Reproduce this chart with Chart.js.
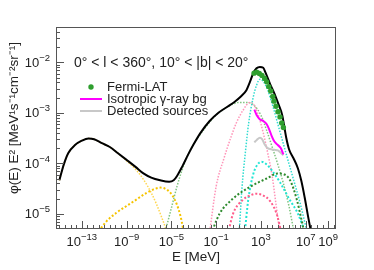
<!DOCTYPE html>
<html>
<head>
<meta charset="utf-8">
<script src="https://cdn.jsdelivr.net/npm/chart.js@4.4.1/dist/chart.umd.min.js"></script>
<style>
  body { margin: 0; background: #fff; }
</style>
</head>
<body>
<canvas id="sedChart" width="374" height="270"></canvas>
<script>
// total model (black)
const totalE = [1e-15, 2.5e-15, 6.3e-15, 2.5e-14, 1e-13, 4e-13, 1.26e-12, 6.3e-12, 3.2e-11, 1.6e-10,
  1e-9, 6.3e-9, 3.2e-8, 1.6e-7, 1e-6, 6.3e-6, 1.6e-5, 3.2e-5, 1e-4, 3.2e-4,
  1e-3, 4e-3, 2.5e-2, 0.16, 1, 4, 16, 50, 100, 200,
  400, 800, 1600, 2500, 6300, 1.6e4, 4e4, 8e4, 1.26e5, 1.8e5,
  3.2e5, 8e5, 2e6, 4e6, 8e6, 1.6e7, 3.2e7];
const totalF = [4.6e-5, 9.5e-5, 1.6e-4, 2.3e-4, 2.8e-4, 3.1e-4, 3.0e-4, 2.5e-4, 2.1e-4, 1.6e-4,
  1.17e-4, 8.5e-5, 6.3e-5, 5.2e-5, 4.6e-5, 4.3e-5, 4.6e-5, 5.6e-5, 8.9e-5, 1.5e-4,
  2.4e-4, 4.0e-4, 6.8e-4, 1.0e-3, 1.32e-3, 1.62e-3, 2.1e-3, 2.8e-3, 4.0e-3, 6.0e-3,
  7.6e-3, 8.1e-3, 7.8e-3, 6.3e-3, 3.8e-3, 2.4e-3, 1.4e-3, 8.9e-4, 5.0e-4, 3.2e-4,
  1.9e-4, 1.26e-4, 7.9e-5, 4.5e-5, 2.1e-5, 8.9e-6, 4.0e-6];

// synchrotron (thin yellow)
const syncE = [1e-15, 2.5e-15, 6.3e-15, 2.5e-14, 1e-13, 4e-13, 1.26e-12, 6.3e-12, 3.2e-11, 1.6e-10,
  1e-9, 6.3e-9, 3.2e-8, 1.6e-7, 5e-7, 1.26e-6, 3.2e-6, 5e-6];
const syncF = [4.6e-5, 9.5e-5, 1.6e-4, 2.3e-4, 2.8e-4, 3.1e-4, 3.0e-4, 2.5e-4, 2.1e-4, 1.6e-4,
  1.12e-4, 7.6e-5, 4.8e-5, 2.6e-5, 1.5e-5, 8.9e-6, 5.0e-6, 3.5e-6];

// second low-energy bump (thick gold)
const bump2E = [3.2e-12, 1.6e-11, 1.26e-10, 4e-9, 6.3e-8, 3.2e-7, 1e-6, 4e-6, 1.26e-5, 3.2e-5, 6.3e-5, 1.12e-4, 1.4e-4];
const bump2F = [4.5e-6, 7.1e-6, 1.05e-5, 1.74e-5, 2.6e-5, 3.1e-5, 3.3e-5, 3.0e-5, 2.3e-5, 1.5e-5, 9.3e-6, 5.0e-6, 3.5e-6];

// inverse Compton (thin light green)
const icE = [2.5e-6, 1e-5, 3.2e-5, 1e-4, 3.2e-4, 1e-3, 1e-2, 0.1, 1, 10,
  63, 250, 1000, 3200, 1e4, 3.2e4, 1e5, 3.2e5, 8e5, 1.26e6];
const icF = [4e-6, 1.3e-5, 3.5e-5, 7.9e-5, 1.5e-4, 2.4e-4, 5.0e-4, 9.1e-4, 1.3e-3, 1.6e-3,
  1.6e-3, 1.4e-3, 8.9e-4, 4.5e-4, 2.1e-4, 9.5e-5, 4.0e-5, 1.4e-5, 5.0e-6, 3.2e-6];

// thin pink
const pinkE = [0.025, 0.1, 0.5, 2, 6.3, 25, 100, 200, 500, 1600, 4000, 1e4, 2e4, 3.5e4, 5e4];
const pinkF = [4.0e-6, 3.5e-5, 1.26e-4, 3.2e-4, 6.3e-4, 1.12e-3, 1.6e-3, 1.5e-3, 1.0e-3, 4.0e-4, 1.6e-4, 5.6e-5, 1.8e-5, 7.1e-6, 4.0e-6];

// thin cyan
const cyanE = [11.2, 20, 40, 80, 200, 400, 800, 1600, 4000, 1.26e4, 5e4, 2e5, 8e5, 3.2e6, 1.26e7];
const cyanF = [4.0e-6, 3.2e-5, 1.6e-4, 6.3e-4, 2.0e-3, 3.5e-3, 4.6e-3, 4.2e-3, 2.8e-3, 1.26e-3, 4.2e-4, 1.4e-4, 4.8e-5, 1.6e-5, 4.5e-6];

// thick cyan
const cyan2E = [35, 71, 200, 500, 1120, 3200, 1e4, 5e4, 3.2e5, 2e6, 8e6];
const cyan2F = [4.0e-6, 1.8e-5, 6.0e-5, 9.5e-5, 1.07e-4, 9.5e-5, 7.1e-5, 4.2e-5, 2.0e-5, 1.0e-5, 4.5e-6];

// thick dark green
const green2E = [0.035, 0.2, 3.2, 100, 3200, 3.2e4, 1.26e5, 4e5, 1.6e6, 4e6, 8e6];
const green2F = [4.0e-6, 1.0e-5, 2.0e-5, 3.4e-5, 5.0e-5, 6.3e-5, 6.0e-5, 4.6e-5, 1.9e-5, 7.9e-6, 4.0e-6];

// thick hot pink
const pink2E = [1.12, 3.2, 25, 100, 400, 1600, 6300, 2.5e4, 6.3e4];
const pink2F = [4.0e-6, 1.0e-5, 1.9e-5, 2.3e-5, 2.5e-5, 2.3e-5, 1.8e-5, 1.0e-5, 4.5e-6];

// Fermi-LAT data points
const fermiE = [240, 420, 710, 1230, 2140, 3240, 4900, 7400, 1.12e4, 1.45e4, 2.2e4, 3.3e4, 5.0e4, 7.1e4, 1.0e5];
const fermiF = [6.1e-3, 6.4e-3, 6.0e-3, 5.5e-3, 4.8e-3, 4.1e-3, 3.3e-3, 2.7e-3, 2.1e-3, 1.7e-3, 1.35e-3, 1.05e-3, 8.3e-4, 6.3e-4, 5.1e-4];

// isotropic gamma-ray background
const isoE = [257, 420, 810, 1580, 3160, 5600, 8900, 1.58e4, 3.2e4, 5.8e4, 1e5];
const isoF = [1.15e-3, 8.9e-4, 7.4e-4, 6.9e-4, 6.0e-4, 4.6e-4, 3.5e-4, 2.7e-4, 2.3e-4, 2.0e-4, 1.5e-4];

// detected sources
const srcE = [257, 420, 810, 1260, 2300, 4000, 7900, 1.58e4, 3.2e4, 7.1e4, 1e5];
const srcF = [2.6e-4, 2.9e-4, 3.2e-4, 3.0e-4, 2.3e-4, 2.0e-4, 1.9e-4, 1.85e-4, 1.8e-4, 1.55e-4, 1.45e-4];

const xTickValues = [1e-13, 1e-9, 1e-5, 1e-1, 1e3, 1e7, 1e9];
const xTickExps = ['−13', '−9', '−5', '−1', '3', '7', '9'];
const yTickValues = [1e-5, 1e-4, 1e-3, 1e-2];
const yTickExps = ['−5', '−4', '−3', '−2'];

const FONT = "'Liberation Sans', Arial, sans-serif";

function pts(xs, ys) {
  return xs.map(function(x, i) { return {x: x, y: ys[i]}; });
}

function curve(xs, ys, color, width, dash) {
  return {
    data: pts(xs, ys),
    borderColor: color,
    borderWidth: width,
    borderDash: dash || [],
    pointRadius: 0,
    cubicInterpolationMode: 'monotone',
    fill: false
  };
}

// "10" with a raised exponent, ROOT style
function powerLabel(ctx, exp, x, y, align) {
  ctx.font = '13px ' + FONT;
  const w1 = ctx.measureText('10').width;
  ctx.font = '9.5px ' + FONT;
  const w2 = ctx.measureText(exp).width;
  const start = align === 'right' ? x - w1 - w2 : x - (w1 + w2) / 2;
  ctx.textAlign = 'left';
  ctx.textBaseline = 'alphabetic';
  ctx.font = '13px ' + FONT;
  ctx.fillText('10', start, y);
  ctx.font = '9.5px ' + FONT;
  ctx.fillText(exp, start + w1, y - 6);
}

// frame, inward ticks, tick labels, title and legend (ROOT style)
const rootStyle = {
  id: 'rootStyle',
  afterDraw: function(chart) {
    const ctx = chart.ctx;
    const a = chart.chartArea;
    const xs = chart.scales.x;
    const ys = chart.scales.y;
    ctx.save();
    ctx.strokeStyle = '#555';
    ctx.lineWidth = 1;
    ctx.strokeRect(a.left + 0.5, a.top + 0.5, a.right - a.left - 1, a.bottom - a.top - 1);

    ctx.beginPath();
    for (let n = -6; n <= -2; n++) {
      for (let m = 1; m <= 9; m++) {
        const v = m * Math.pow(10, n);
        if (v < ys.min || v > ys.max) continue;
        const y = Math.round(ys.getPixelForValue(v)) + 0.5;
        ctx.moveTo(a.left, y);
        ctx.lineTo(a.left + (m === 1 ? 8 : 4), y);
      }
    }
    for (let n = -32; n <= 20; n++) {
      const v = Math.pow(10, n / 2);
      if (v < xs.min || v > xs.max) continue;
      const x = Math.round(xs.getPixelForValue(v)) + 0.5;
      ctx.moveTo(x, a.bottom);
      ctx.lineTo(x, a.bottom - (xTickValues.indexOf(v) >= 0 ? 8 : 4));
    }
    ctx.stroke();

    ctx.fillStyle = '#222';
    xTickValues.forEach(function(v, i) {
      powerLabel(ctx, xTickExps[i], xs.getPixelForValue(v), 245.5, 'center');
    });
    yTickValues.forEach(function(v, i) {
      powerLabel(ctx, yTickExps[i], 50, ys.getPixelForValue(v) + 4.5, 'right');
    });

    ctx.font = '14px ' + FONT;
    ctx.textAlign = 'left';
    ctx.textBaseline = 'alphabetic';
    ctx.fillText('0° < l < 360°, 10° < |b| < 20°', 74, 67);

    // legend
    ctx.font = '13px ' + FONT;
    ctx.fillText('Fermi-LAT', 107, 91);
    ctx.fillText('Isotropic γ-ray bg', 107, 103);
    ctx.fillText('Detected sources', 107, 115);
    ctx.fillStyle = '#2e9e2e';
    ctx.beginPath();
    ctx.arc(91, 87, 2.7, 0, Math.PI * 2);
    ctx.fill();
    ctx.lineWidth = 2;
    ctx.strokeStyle = '#ff00ff';
    ctx.beginPath();
    ctx.moveTo(80, 99);
    ctx.lineTo(102, 99);
    ctx.stroke();
    ctx.strokeStyle = '#c8c8c8';
    ctx.beginPath();
    ctx.moveTo(80, 111);
    ctx.lineTo(102, 111);
    ctx.stroke();

    // y title
    ctx.fillStyle = '#222';
    ctx.font = '13.5px ' + FONT;
    ctx.translate(18, 118);
    ctx.rotate(-Math.PI / 2);
    ctx.textAlign = 'center';
    ctx.fillText('φ(E) E² [MeV¹s⁻¹cm⁻²sr⁻¹]', 0, 0);
    ctx.restore();
  }
};

const ctx = document.getElementById('sedChart').getContext('2d');
const chart = new Chart(ctx, {
  type: 'line',
  data: {
    datasets: [
      {
        data: pts(fermiE, fermiF),
        showLine: false,
        pointRadius: 2.7,
        pointBackgroundColor: '#2e9e2e',
        pointBorderWidth: 0
      },
      curve(isoE, isoF, '#ff00ff', 2),
      curve(srcE, srcF, '#c8c8c8', 2),
      curve(totalE, totalF, '#000000', 2),
      curve(pink2E, pink2F, '#ff5c8a', 2, [2, 2]),
      curve(green2E, green2F, '#2e8b2e', 2, [2, 2]),
      curve(cyan2E, cyan2F, '#22e5d5', 2, [2, 2]),
      curve(cyanE, cyanF, '#30dcd0', 1.5, [1.5, 1.5]),
      curve(pinkE, pinkF, '#ff94b8', 1.5, [1.5, 1.5]),
      curve(icE, icF, '#80c480', 1.5, [1.5, 1.5]),
      curve(bump2E, bump2F, '#f5c400', 2, [2, 2]),
      curve(syncE, syncF, '#ffd650', 1.5, [1.5, 1.5])
    ]
  },
  options: {
    responsive: false,
    animation: false,
    devicePixelRatio: 1,
    layout: { padding: { top: 27, right: 38, left: 0, bottom: 0 } },
    plugins: { legend: { display: false }, tooltip: { enabled: false } },
    scales: {
      x: {
        type: 'logarithmic',
        min: 5e-16,
        max: 5e9,
        grid: { display: false, drawTicks: false },
        border: { display: false },
        afterBuildTicks: function(s) { s.ticks = xTickValues.map(function(v) { return {value: v}; }); },
        afterFit: function(s) { s.height = 41; },
        ticks: { display: false },
        title: {
          display: true,
          text: 'E [MeV]',
          color: '#222',
          font: { family: FONT, size: 13.5 },
          padding: { top: 0, bottom: 5 }
        }
      },
      y: {
        type: 'logarithmic',
        min: 5e-6,
        max: 5e-2,
        grid: { display: false, drawTicks: false },
        border: { display: false },
        afterBuildTicks: function(s) { s.ticks = yTickValues.map(function(v) { return {value: v}; }); },
        afterFit: function(s) { s.width = 56; },
        ticks: { display: false }
      }
    }
  },
  plugins: [rootStyle]
});
</script>
</body>
</html>
